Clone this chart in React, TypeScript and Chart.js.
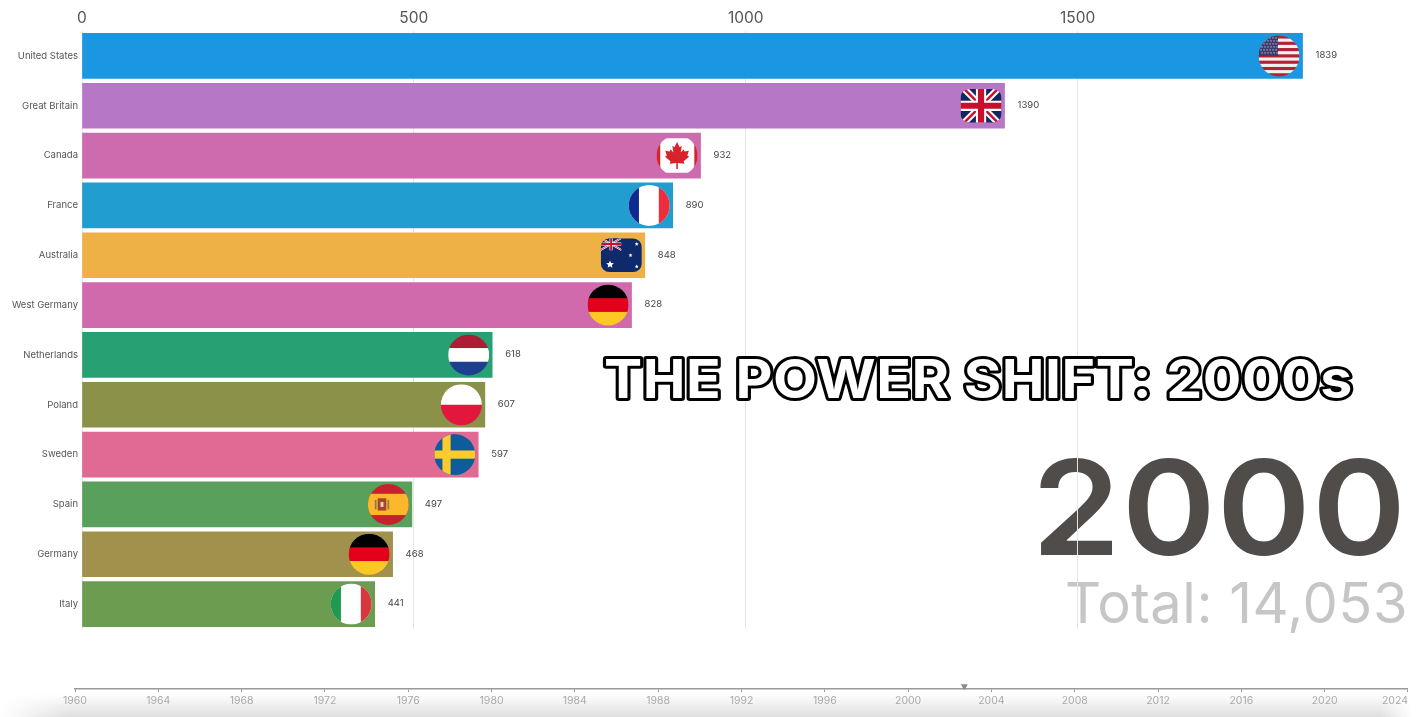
import React, { useEffect, useRef } from "react";
import { Chart, registerables } from "chart.js";

Chart.register(...registerables);

const categories = ["United States", "Great Britain", "Canada", "France", "Australia", "West Germany", "Netherlands", "Poland", "Sweden", "Spain", "Germany", "Italy"];
const medalValues = [1839, 1390, 932, 890, 848, 828, 618, 607, 597, 497, 468, 441];
const barColors = ["#1b96e0", "#b577c6", "#cd6bae", "#219dcf", "#edb146", "#d06aac", "#27a173", "#8b9149", "#e06a93", "#58a05c", "#a0914d", "#6b9c50"];
const flagCodes = ["us", "gb", "ca", "fr", "au", "de", "nl", "pl", "se", "es", "de", "it"];
const valueAxisTicks = [0, 500, 1000, 1500];
const timelineYears = [1960, 1964, 1968, 1972, 1976, 1980, 1984, 1988, 1992, 1996, 2000, 2004, 2008, 2012, 2016, 2020, 2024];
const timelineMarker = [2002.7];
const titleText = "THE POWER SHIFT: 2000s";
const yearText = "2000";
const totalText = "Total: 14,053";

const FONT = "Inter, 'Open Sans', sans-serif";

type Ctx = CanvasRenderingContext2D;

function bands(ctx: Ctx, colors: string[], r: number) {
  const n = colors.length;
  colors.forEach((c, i) => {
    ctx.fillStyle = c;
    ctx.fillRect(-r, -r + (i * 2 * r) / n, 2 * r, (2 * r) / n + 0.5);
  });
}

function tricolor(ctx: Ctx, left: string, mid: string, right: string, r: number) {
  ctx.fillStyle = mid;
  ctx.fillRect(-r, -r, 2 * r, 2 * r);
  ctx.fillStyle = left;
  ctx.fillRect(-r, -r, r * 0.5, 2 * r);
  ctx.fillStyle = right;
  ctx.fillRect(r * 0.47, -r, r * 0.53, 2 * r);
}

function star(ctx: Ctx, x: number, y: number, s: number) {
  ctx.beginPath();
  for (let i = 0; i < 10; i++) {
    const a = (Math.PI / 5) * i - Math.PI / 2;
    const q = i % 2 ? s * 0.45 : s;
    ctx.lineTo(x + Math.cos(a) * q, y + Math.sin(a) * q);
  }
  ctx.closePath();
  ctx.fill();
}

function unionJack(ctx: Ctx, w: number, h: number, blue: string) {
  ctx.fillStyle = blue;
  ctx.fillRect(-w, -h, 2 * w, 2 * h);
  ctx.lineCap = "butt";
  ctx.strokeStyle = "#fff";
  ctx.lineWidth = h * 0.32;
  ctx.beginPath();
  ctx.moveTo(-w, -h); ctx.lineTo(w, h); ctx.moveTo(w, -h); ctx.lineTo(-w, h);
  ctx.stroke();
  ctx.strokeStyle = "#c8102e";
  ctx.lineWidth = h * 0.12;
  ctx.stroke();
  ctx.strokeStyle = "#fff";
  ctx.lineWidth = h * 0.5;
  ctx.beginPath();
  ctx.moveTo(-w, 0); ctx.lineTo(w, 0); ctx.moveTo(0, -h); ctx.lineTo(0, h);
  ctx.stroke();
  ctx.strokeStyle = "#c8102e";
  ctx.lineWidth = h * 0.3;
  ctx.stroke();
}

const MAPLE: [number, number][] = [[0, -1], [-0.2, -0.62], [-0.36, -0.72], [-0.28, -0.22], [-0.5, -0.46], [-0.56, -0.3], [-0.9, -0.36], [-0.78, 0], [-0.92, 0.08], [-0.5, 0.42], [-0.56, 0.6], [-0.06, 0.54], [-0.06, 1], [0.06, 1], [0.06, 0.54], [0.56, 0.6], [0.5, 0.42], [0.92, 0.08], [0.78, 0], [0.9, -0.36], [0.56, -0.3], [0.5, -0.46], [0.28, -0.22], [0.36, -0.72], [0.2, -0.62]];

function drawFlag(ctx: Ctx, code: string, cx: number, cy: number, r: number) {
  ctx.save();
  ctx.translate(cx, cy);
  ctx.beginPath();
  if (code === "gb" || code === "au") {
    ctx.roundRect(-r, -r * 0.82, 2 * r, r * 1.64, r * 0.42);
  } else {
    ctx.arc(0, 0, r, 0, Math.PI * 2);
  }
  ctx.clip();
  switch (code) {
    case "us": {
      const stripes = ["#b22234", "#f4f0f0", "#b22234", "#f4f0f0", "#b22234", "#f4f0f0", "#b22234", "#f4f0f0", "#b22234", "#f4f0f0", "#b22234", "#f4f0f0", "#b22234"];
      bands(ctx, stripes, r);
      ctx.fillStyle = "#3c3b6e";
      ctx.fillRect(-r, -r, r * 0.95, r);
      ctx.fillStyle = "#fff";
      for (let row = 0; row < 6; row++) {
        for (let col = 0; col < 6; col++) {
          ctx.fillRect(-r + 2 + col * 3 + (row % 2), -r + 2 + row * 3, 1, 1);
        }
      }
      break;
    }
    case "gb":
      unionJack(ctx, r, r, "#14265f");
      break;
    case "ca":
      ctx.fillStyle = "#d8232a";
      ctx.fillRect(-r, -r * 0.62, 2 * r, r * 1.24);
      ctx.fillStyle = "#fff";
      ctx.beginPath();
      ctx.roundRect(-r * 0.82, -r * 0.84, r * 1.66, r * 1.68, r * 0.2);
      ctx.fill();
      ctx.fillStyle = "#d8232a";
      ctx.beginPath();
      MAPLE.forEach(([x, y]) => ctx.lineTo(x * r * 0.64, y * r * 0.66));
      ctx.closePath();
      ctx.fill();
      break;
    case "fr":
      tricolor(ctx, "#0f2a8c", "#ffffff", "#ef2b3c", r);
      break;
    case "au":
      ctx.fillStyle = "#0e2a6b";
      ctx.fillRect(-r, -r, 2 * r, 2 * r);
      ctx.save();
      ctx.beginPath();
      ctx.rect(-r, -r, r, r * 0.82);
      ctx.clip();
      ctx.translate(-r * 0.5, -r * 0.55);
      unionJack(ctx, r * 0.52, r * 0.3, "#0e2a6b");
      ctx.restore();
      ctx.fillStyle = "#fff";
      star(ctx, -r * 0.55, r * 0.45, r * 0.2);
      star(ctx, r * 0.45, 0, r * 0.1);
      star(ctx, r * 0.75, -r * 0.55, r * 0.1);
      star(ctx, r * 0.75, r * 0.55, r * 0.1);
      break;
    case "de":
      bands(ctx, ["#000000", "#e2001a", "#fdc826"], r);
      break;
    case "nl":
      bands(ctx, ["#ad1d34", "#ffffff", "#1c3f8f"], r);
      break;
    case "pl":
      bands(ctx, ["#ffffff", "#e2173d"], r);
      break;
    case "se":
      ctx.fillStyle = "#0f5c9c";
      ctx.fillRect(-r, -r, 2 * r, 2 * r);
      ctx.fillStyle = "#fdcb2e";
      ctx.fillRect(-r, -r * 0.2, 2 * r, r * 0.4);
      ctx.fillRect(-r * 0.6, -r, r * 0.4, 2 * r);
      break;
    case "es":
      ctx.fillStyle = "#c8202c";
      ctx.fillRect(-r, -r, 2 * r, 2 * r);
      ctx.fillStyle = "#fbb82c";
      ctx.fillRect(-r, -r * 0.52, 2 * r, r * 1.04);
      ctx.fillStyle = "#a8442a";
      ctx.fillRect(-r * 0.52, -r * 0.3, r * 0.42, r * 0.6);
      ctx.fillStyle = "#e8d8c0";
      ctx.fillRect(-r * 0.38, -r * 0.12, r * 0.14, r * 0.24);
      ctx.fillStyle = "#8a7a5a";
      ctx.fillRect(-r * 0.66, -r * 0.22, r * 0.08, r * 0.46);
      ctx.fillRect(-r * 0.04, -r * 0.22, r * 0.08, r * 0.46);
      break;
    case "it":
      tricolor(ctx, "#1f9a50", "#ffffff", "#d7373f", r);
      break;
  }
  ctx.restore();
}

const overlayBehind = {
  id: "overlayBehind",
  beforeDraw(chart: any) {
    const ctx: Ctx = chart.ctx;
    ctx.save();
    ctx.textAlign = "right";
    ctx.textBaseline = "alphabetic";
    ctx.fillStyle = "#504c4a";
    ctx.font = `600 132px ${FONT}`;
    ctx.save();
    ctx.translate(1407, 555);
    ctx.scale(1.08, 1);
    (ctx as any).letterSpacing = "1px";
    ctx.fillText(yearText, 0, 0);
    ctx.restore();
    ctx.fillStyle = "#c6c6c6";
    ctx.font = `400 56px ${FONT}`;
    (ctx as any).letterSpacing = "0.5px";
    ctx.fillText(totalText, 1408, 623);
    ctx.restore();
  },
};

const barExtras = {
  id: "barExtras",
  afterDatasetsDraw(chart: any) {
    const ctx: Ctx = chart.ctx;
    const bars = chart.getDatasetMeta(0).data;
    ctx.save();
    bars.forEach((bar: any, i: number) => {
      drawFlag(ctx, flagCodes[i], bar.x - 23.5, bar.y, 20.5);
      ctx.fillStyle = "#444";
      ctx.font = `400 9.5px ${FONT}`;
      ctx.textAlign = "left";
      ctx.textBaseline = "middle";
      ctx.fillText(String(medalValues[i]), bar.x + 13, bar.y - 0.5);
    });
    ctx.restore();
  },
  afterDraw(chart: any) {
    const ctx: Ctx = chart.ctx;
    ctx.save();
    ctx.translate(604, 398);
    ctx.scale(1.06, 1);
    ctx.textAlign = "left";
    ctx.textBaseline = "alphabetic";
    ctx.font = `700 54px ${FONT}`;
    (ctx as any).letterSpacing = "0.5px";
    ctx.lineJoin = "round";
    ctx.strokeStyle = "#000";
    ctx.lineWidth = 6;
    ctx.strokeText(titleText, 0, 0);
    ctx.fillStyle = "#fff";
    ctx.fillText(titleText, 0, 0);
    ctx.restore();
  },
};

const alignLastTick = {
  id: "alignLastTick",
  beforeDraw(chart: any) {
    const items = chart.scales.x.getLabelItems();
    const last = items[items.length - 1];
    if (last) last.options.textAlign = "right";
  },
};

export default function App() {
  const mainRef = useRef<HTMLCanvasElement>(null);
  const timeRef = useRef<HTMLCanvasElement>(null);

  useEffect(() => {
    const main = new Chart(mainRef.current!, {
      type: "bar",
      data: {
        labels: categories,
        datasets: [{ data: medalValues, backgroundColor: barColors, barThickness: 45, borderWidth: 0 }],
      },
      options: {
        indexAxis: "y",
        animation: false,
        responsive: false,
        layout: { padding: { right: 14.6, bottom: 88 } },
        plugins: { legend: { display: false }, tooltip: { enabled: false } },
        scales: {
          x: {
            position: "top",
            min: 0,
            max: 2000,
            afterBuildTicks: (s: any) => { s.ticks = valueAxisTicks.map((value) => ({ value })); },
            afterFit: (s: any) => { s.height = 31; },
            grid: { color: "#e6e6e6", lineWidth: 1, drawTicks: false },
            border: { display: false },
            ticks: { padding: 3, color: "#555", font: { family: FONT, size: 15.5 }, maxRotation: 0, callback: (v: any) => String(v) },
          },
          y: {
            afterFit: (s: any) => { s.width = 82; },
            grid: { display: false, drawTicks: false },
            border: { display: false },
            ticks: { padding: 4, color: "#555", font: { family: FONT, size: 9.5 }, autoSkip: false },
          },
        },
      },
      plugins: [overlayBehind, barExtras],
    } as any);

    const time = new Chart(timeRef.current!, {
      type: "scatter",
      data: {
        datasets: [{
          data: timelineMarker.map((x) => ({ x, y: 0.18 })),
          pointStyle: "triangle",
          rotation: 180,
          radius: 4,
          backgroundColor: "#888",
          borderWidth: 0,
          clip: false,
        }],
      },
      options: {
        animation: false,
        responsive: false,
        layout: { padding: { left: 75, right: 16, top: 0, bottom: 0 } },
        plugins: { legend: { display: false }, tooltip: { enabled: false } },
        scales: {
          x: {
            type: "linear",
            min: timelineYears[0],
            max: timelineYears[timelineYears.length - 1],
            afterBuildTicks: (s: any) => { s.ticks = timelineYears.map((value) => ({ value })); },
            afterFit: (s: any) => { s.height = 28; },
            grid: { drawOnChartArea: false, drawTicks: true, tickLength: 3, color: "#999" },
            border: { display: true, color: "#999", width: 1.5 },
            ticks: {
              autoSkip: false,
              maxRotation: 0,
              padding: 3,
              color: "#aaa",
              font: { family: FONT, size: 10.5 },
              callback: (v: any) => String(v),
            },
          },
          y: { display: false, min: 0, max: 1 },
        },
      },
      plugins: [alignLastTick],
    } as any);

    return () => {
      main.destroy();
      time.destroy();
    };
  }, []);

  return (
    <div style={{ position: "fixed", left: 0, top: 0, width: 1424, height: 717, overflow: "hidden", background: "#fff" }}>
      <canvas ref={mainRef} width={1424} height={717} style={{ position: "absolute", left: 0, top: 0, display: "block" }} />
      <div
        style={{
          position: "absolute",
          left: 0,
          top: 694,
          width: 1424,
          height: 23,
          background: "linear-gradient(to bottom, rgba(222,222,222,0), rgba(222,222,222,1))",
          WebkitMaskImage: "linear-gradient(to right, transparent 0, #000 70px, #000 1380px, transparent 1412px)",
          maskImage: "linear-gradient(to right, transparent 0, #000 70px, #000 1380px, transparent 1412px)",
        }}
      />
      <canvas ref={timeRef} width={1424} height={47} style={{ position: "absolute", left: 0, top: 670, display: "block" }} />
    </div>
  );
}
